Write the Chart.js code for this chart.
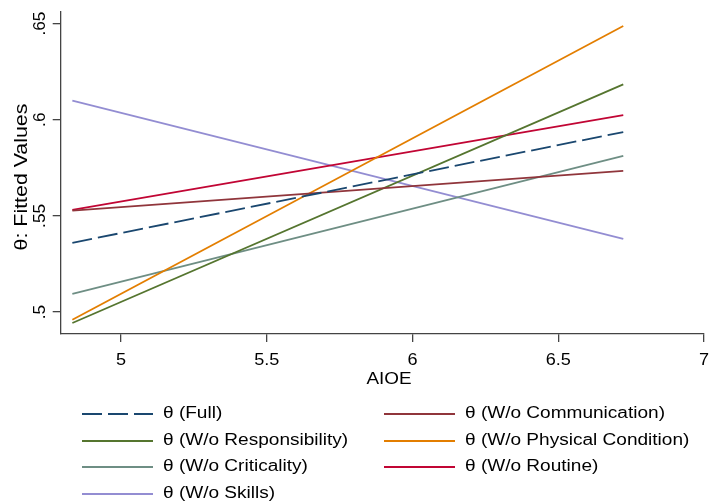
<!DOCTYPE html>
<html>
<head>
<meta charset="utf-8">
<script src="https://cdn.jsdelivr.net/npm/chart.js@4"></script>
<style>
  body { margin: 0; background: #fff; }
  canvas { display: block; }
</style>
</head>
<body>
<canvas id="myChart" width="710" height="504"></canvas>
<script>
// fitted lines: value at the first and last AIOE
const aioe = [4.833, 6.723];
const full = [0.536, 0.5936];
const communication = [0.5527, 0.5734];
const responsibility = [0.4943, 0.6184];
const physical = [0.496, 0.6487];
const criticality = [0.5095, 0.5812];
const routine = [0.5531, 0.6024];
const skills = [0.6099, 0.538];

const seriesNames = ['θ (Full)', 'θ (W/o Communication)', 'θ (W/o Responsibility)',
    'θ (W/o Physical Condition)', 'θ (W/o Criticality)', 'θ (W/o Routine)', 'θ (W/o Skills)'];

const xTicks = [5, 5.5, 6, 6.5, 7];
const xTickLabels = ['5', '5.5', '6', '6.5', '7'];
const yTicks = [0.5, 0.55, 0.6, 0.65];
const yTickLabels = ['.5', '.55', '.6', '.65'];

const FONT = '"Liberation Sans", Arial, sans-serif';
const AXIS = '#444';

const pts = (vals) => vals.map((v, i) => ({x: aioe[i], y: v}));

function line(label, vals, color, dash) {
    return {
        label: label,
        data: pts(vals),
        borderColor: color,
        borderWidth: 1.8,
        borderDash: dash || [],
        pointRadius: 0,
        tension: 0,
        fill: false
    };
}

// text in the stata export is a bit wider than liberation, so stretch it
function stretchText(ctx, text, x, y, align, sx, angle) {
    ctx.save();
    ctx.translate(x, y);
    if (angle) ctx.rotate(angle);
    ctx.scale(sx, 1);
    ctx.textAlign = align;
    ctx.fillText(text, 0, 0);
    ctx.restore();
}

// axis labels and titles
const axisText = {
    id: 'axisText',
    afterDraw(chart) {
        const {ctx, scales: {x, y}} = chart;
        ctx.save();
        ctx.fillStyle = '#000';
        ctx.textBaseline = 'alphabetic';
        ctx.font = '16px ' + FONT;
        xTicks.forEach((v, i) => {
            stretchText(ctx, xTickLabels[i], x.getPixelForValue(v), 364.5, 'center', 1.13);
        });
        yTicks.forEach((v, i) => {
            stretchText(ctx, yTickLabels[i], 45, y.getPixelForValue(v), 'center', 1.08, -Math.PI / 2);
        });
        stretchText(ctx, 'AIOE', 389, 384, 'center', 1.18);
        ctx.font = '17.5px ' + FONT;
        stretchText(ctx, 'θ: Fitted Values', 27, 177, 'center', 1.22, -Math.PI / 2);
        ctx.restore();
    }
};

// two column legend under the plot
const twoColLegend = {
    id: 'twoColLegend',
    afterDraw(chart) {
        const ctx = chart.ctx;
        const cols = [{x0: 82, x1: 153, tx: 163}, {x0: 384, x1: 455, tx: 465}];
        const rows = [414, 441, 467, 494];
        ctx.save();
        ctx.font = '16px ' + FONT;
        ctx.textBaseline = 'middle';
        chart.data.datasets.forEach((ds, i) => {
            const c = cols[i % 2];
            const ry = rows[Math.floor(i / 2)];
            ctx.strokeStyle = ds.borderColor;
            ctx.lineWidth = ds.borderWidth;
            ctx.setLineDash(ds.borderDash);
            ctx.beginPath();
            ctx.moveTo(c.x0, ry);
            ctx.lineTo(c.x1, ry);
            ctx.stroke();
            ctx.setLineDash([]);
            ctx.fillStyle = '#000';
            stretchText(ctx, ds.label, c.tx, ry, 'left', 1.19);
        });
        ctx.restore();
    }
};

new Chart(document.getElementById('myChart'), {
    type: 'line',
    data: {
        datasets: [
            line(seriesNames[0], full, '#1a476f', [20, 6]),
            line(seriesNames[1], communication, '#90353b'),
            line(seriesNames[2], responsibility, '#55752f'),
            line(seriesNames[3], physical, '#e37e00'),
            line(seriesNames[4], criticality, '#6e8e84'),
            line(seriesNames[5], routine, '#c10534'),
            line(seriesNames[6], skills, '#938dd2')
        ]
    },
    options: {
        responsive: false,
        animation: false,
        layout: {
            padding: {left: 0, right: 6, top: 12, bottom: 110}
        },
        plugins: {
            legend: {display: false},
            tooltip: {enabled: false}
        },
        scales: {
            x: {
                type: 'linear',
                min: 4.793,
                max: 7,
                afterBuildTicks: (scale) => { scale.ticks = xTicks.map(v => ({value: v})); },
                afterFit: (scale) => { scale.height = 60; },
                border: {display: true, color: AXIS, width: 1.3},
                grid: {drawOnChartArea: false, drawTicks: true, tickLength: 8, color: AXIS, lineWidth: 1.3},
                ticks: {display: false}
            },
            y: {
                type: 'linear',
                min: 0.4886,
                max: 0.656,
                afterBuildTicks: (scale) => { scale.ticks = yTicks.map(v => ({value: v})); },
                afterFit: (scale) => { scale.width = 60.7; },
                border: {display: true, color: AXIS, width: 1.3},
                grid: {drawOnChartArea: false, drawTicks: true, tickLength: 8, color: AXIS, lineWidth: 1.3},
                ticks: {display: false}
            }
        }
    },
    plugins: [axisText, twoColLegend]
});
</script>
</body>
</html>
